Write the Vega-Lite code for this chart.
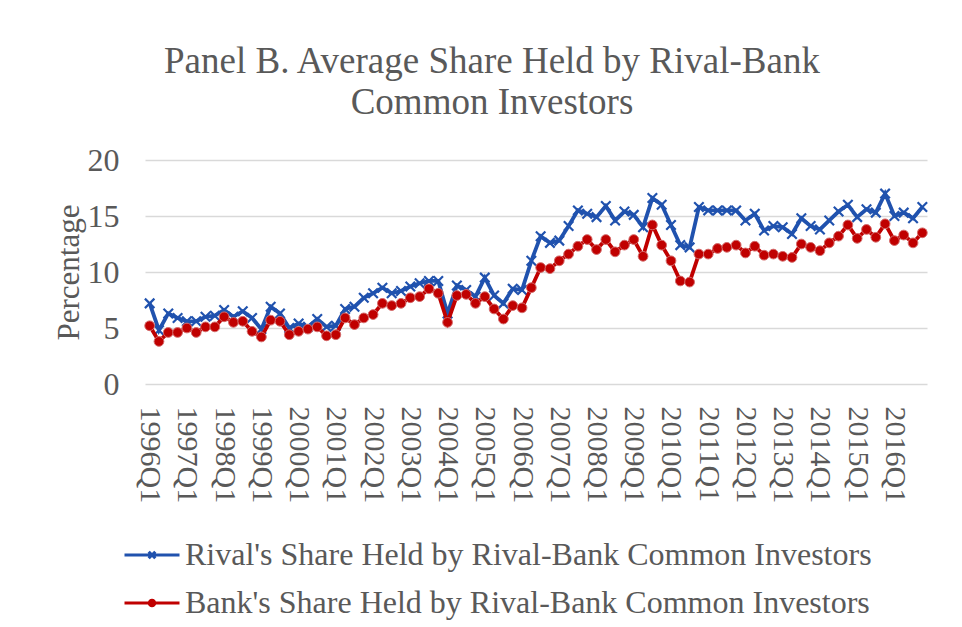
{
  "$schema": "https://vega.github.io/schema/vega-lite/v6.json",
  "width": 782,
  "height": 224,
  "autosize": {"type": "none"},
  "padding": {"left": 145, "top": 160, "right": 35, "bottom": 243},
  "background": "white",
  "title": {
    "text": ["Panel B. Average Share Held by Rival-Bank", "Common Investors"],
    "font": "Liberation Serif",
    "fontSize": 37,
    "fontWeight": "normal",
    "color": "#595959",
    "anchor": "middle",
    "dx": -44,
    "lineHeight": 41,
    "offset": 22
  },
  "config": {
    "view": {"stroke": null},
    "legend": {
      "symbolOpacity": 1,
      "symbolStrokeWidth": 3,
      "symbolSize": 3025
    }
  },
  "data": {
    "values": [
      {"q":"1996Q1","r":7.2,"b":5.2},{"q":"1996Q2","r":4.8,"b":3.8},{"q":"1996Q3","r":6.3,"b":4.6},{"q":"1996Q4","r":5.9,"b":4.6},
      {"q":"1997Q1","r":5.6,"b":5.0},{"q":"1997Q2","r":5.6,"b":4.6},{"q":"1997Q3","r":6.0,"b":5.1},{"q":"1997Q4","r":6.1,"b":5.1},
      {"q":"1998Q1","r":6.6,"b":6.0},{"q":"1998Q2","r":6.0,"b":5.5},{"q":"1998Q3","r":6.5,"b":5.6},{"q":"1998Q4","r":5.9,"b":4.7},
      {"q":"1999Q1","r":4.9,"b":4.2},{"q":"1999Q2","r":6.9,"b":5.7},{"q":"1999Q3","r":6.3,"b":5.6},{"q":"1999Q4","r":5.0,"b":4.4},
      {"q":"2000Q1","r":5.4,"b":4.7},{"q":"2000Q2","r":5.1,"b":4.9},{"q":"2000Q3","r":5.8,"b":5.1},{"q":"2000Q4","r":5.1,"b":4.3},
      {"q":"2001Q1","r":5.2,"b":4.4},{"q":"2001Q2","r":6.7,"b":5.9},{"q":"2001Q3","r":6.9,"b":5.3},{"q":"2001Q4","r":7.7,"b":5.9},
      {"q":"2002Q1","r":8.1,"b":6.2},{"q":"2002Q2","r":8.6,"b":7.2},{"q":"2002Q3","r":8.1,"b":7.0},{"q":"2002Q4","r":8.3,"b":7.2},
      {"q":"2003Q1","r":8.7,"b":7.7},{"q":"2003Q2","r":9.0,"b":7.8},{"q":"2003Q3","r":9.2,"b":8.5},{"q":"2003Q4","r":9.2,"b":8.1},
      {"q":"2004Q1","r":6.3,"b":5.5},{"q":"2004Q2","r":8.8,"b":7.9},{"q":"2004Q3","r":8.4,"b":8.0},{"q":"2004Q4","r":7.8,"b":7.2},
      {"q":"2005Q1","r":9.5,"b":7.8},{"q":"2005Q2","r":7.9,"b":6.7},{"q":"2005Q3","r":7.2,"b":5.8},{"q":"2005Q4","r":8.5,"b":7.0},
      {"q":"2006Q1","r":8.4,"b":6.8},{"q":"2006Q2","r":11.0,"b":8.6},{"q":"2006Q3","r":13.2,"b":10.4},{"q":"2006Q4","r":12.6,"b":10.3},
      {"q":"2007Q1","r":12.8,"b":11.0},{"q":"2007Q2","r":14.1,"b":11.6},{"q":"2007Q3","r":15.5,"b":12.3},{"q":"2007Q4","r":15.2,"b":12.9},
      {"q":"2008Q1","r":14.9,"b":12.0},{"q":"2008Q2","r":15.9,"b":12.9},{"q":"2008Q3","r":14.6,"b":11.8},{"q":"2008Q4","r":15.4,"b":12.4},
      {"q":"2009Q1","r":15.1,"b":12.9},{"q":"2009Q2","r":14.0,"b":11.4},{"q":"2009Q3","r":16.6,"b":14.2},{"q":"2009Q4","r":16.0,"b":12.4},
      {"q":"2010Q1","r":14.2,"b":11.0},{"q":"2010Q2","r":12.4,"b":9.2},{"q":"2010Q3","r":12.2,"b":9.1},{"q":"2010Q4","r":15.8,"b":11.6},
      {"q":"2011Q1","r":15.5,"b":11.6},{"q":"2011Q2","r":15.5,"b":12.1},{"q":"2011Q3","r":15.5,"b":12.2},{"q":"2011Q4","r":15.5,"b":12.4},
      {"q":"2012Q1","r":14.6,"b":11.7},{"q":"2012Q2","r":15.2,"b":12.3},{"q":"2012Q3","r":13.7,"b":11.5},{"q":"2012Q4","r":14.1,"b":11.6},
      {"q":"2013Q1","r":14.0,"b":11.4},{"q":"2013Q2","r":13.4,"b":11.3},{"q":"2013Q3","r":14.8,"b":12.5},{"q":"2013Q4","r":14.1,"b":12.2},
      {"q":"2014Q1","r":13.8,"b":11.9},{"q":"2014Q2","r":14.6,"b":12.6},{"q":"2014Q3","r":15.4,"b":13.2},{"q":"2014Q4","r":16.0,"b":14.2},
      {"q":"2015Q1","r":14.9,"b":13.0},{"q":"2015Q2","r":15.6,"b":13.8},{"q":"2015Q3","r":15.3,"b":13.1},{"q":"2015Q4","r":17.0,"b":14.3},
      {"q":"2016Q1","r":15.0,"b":12.8},{"q":"2016Q2","r":15.3,"b":13.3},{"q":"2016Q3","r":14.8,"b":12.6},{"q":"2016Q4","r":15.8,"b":13.5}
    ]
  },
  "transform": [{"fold": ["r", "b"], "as": ["s", "v"]}],
  "encoding": {
    "x": {
      "field": "q",
      "type": "ordinal",
      "scale": {"type": "point", "padding": 0.5},
      "axis": {
        "title": null,
        "values": ["1996Q1","1997Q1","1998Q1","1999Q1","2000Q1","2001Q1","2002Q1","2003Q1","2004Q1","2005Q1","2006Q1","2007Q1","2008Q1","2009Q1","2010Q1","2011Q1","2012Q1","2013Q1","2014Q1","2015Q1","2016Q1"],
        "labelAngle": 90,
        "labelAlign": "left",
        "labelBaseline": "middle",
        "labelFont": "Liberation Serif",
        "labelFontSize": 30,
        "labelColor": "#595959",
        "labelPadding": 22,
        "labelOverlap": false,
        "domain": false,
        "ticks": false,
        "grid": false
      }
    },
    "y": {
      "field": "v",
      "type": "quantitative",
      "scale": {"domain": [0, 20], "nice": false},
      "axis": {
        "title": "Percentage",
        "titleFont": "Liberation Serif",
        "titleFontSize": 31,
        "titleFontWeight": "normal",
        "titleColor": "#595959",
        "titlePadding": 2,
        "values": [0, 5, 10, 15, 20],
        "labelFont": "Liberation Serif",
        "labelFontSize": 32,
        "labelColor": "#595959",
        "labelPadding": 26,
        "domain": false,
        "ticks": false,
        "grid": true,
        "gridColor": "#d9d9d9",
        "gridWidth": 1.5
      }
    }
  },
  "layer": [
    {
      "transform": [{"filter": "datum.s == 'r'"}],
      "mark": {"type": "line", "color": "#2052ae", "strokeWidth": 3.8},
      "encoding": {}
    },
    {
      "transform": [{"filter": "datum.s == 'r'"}],
      "mark": {"type": "point", "shape": "M-1,-1L1,1M-1,1L1,-1", "filled": false, "stroke": "#2052ae", "strokeWidth": 2.2, "size": 90, "opacity": 1},
      "encoding": {}
    },
    {
      "transform": [{"filter": "datum.s == 'b'"}],
      "mark": {"type": "line", "color": "#c00000", "strokeWidth": 3.8},
      "encoding": {}
    },
    {
      "transform": [{"filter": "datum.s == 'b'"}],
      "mark": {"type": "point", "shape": "circle", "filled": true, "fill": "#c00000", "stroke": "#d46a6a", "strokeWidth": 1, "size": 95, "opacity": 1},
      "encoding": {}
    },
    {
      "mark": {"type": "point", "filled": false, "opacity": 0},
      "encoding": {
        "stroke": {
          "field": "s",
          "type": "nominal",
          "scale": {"domain": ["r", "b"], "range": ["#2052ae", "#c00000"]},
          "legend": {
            "title": null,
            "orient": "none",
            "legendX": -22,
            "legendY": 366,
            "direction": "vertical",
            "labelFont": "Liberation Serif",
            "labelFontSize": 32,
            "labelColor": "#595959",
            "labelOffset": 4,
            "labelLimit": 0,
            "rowPadding": 3,
            "labelExpr": "datum.value == 'r' ? \"Rival's Share Held by Rival-Bank Common Investors\" : \"Bank's Share Held by Rival-Bank Common Investors\""
          }
        },
        "shape": {
          "field": "s",
          "type": "nominal",
          "scale": {"domain": ["r", "b"], "range": ["M-1,0H1M-0.12,-0.12L0.12,0.12M-0.12,0.12L0.12,-0.12", "M-1,0H1M-0.1,0A0.1,0.1,0,1,0,0.1,0A0.1,0.1,0,1,0,-0.1,0"]},
          "legend": {
            "title": null,
            "orient": "none",
            "legendX": -22,
            "legendY": 366,
            "direction": "vertical",
            "labelFont": "Liberation Serif",
            "labelFontSize": 32,
            "labelColor": "#595959",
            "labelOffset": 4,
            "labelLimit": 0,
            "rowPadding": 3,
            "labelExpr": "datum.value == 'r' ? \"Rival's Share Held by Rival-Bank Common Investors\" : \"Bank's Share Held by Rival-Bank Common Investors\""
          }
        }
      }
    }
  ]
}
